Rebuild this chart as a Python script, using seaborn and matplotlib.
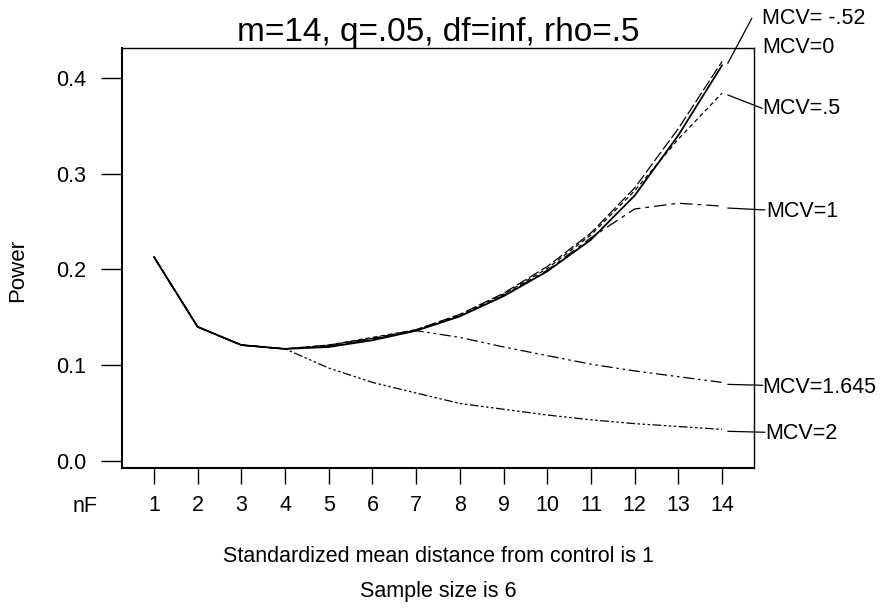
import pandas as pd
import matplotlib
matplotlib.use("Agg")
import matplotlib.pyplot as plt
import seaborn as sns

nF = list(range(1, 15))
mcv_labels = ["MCV= -.52", "MCV=0", "MCV=.5", "MCV=1", "MCV=1.645", "MCV=2"]

power_m052 = [0.213, 0.140, 0.121, 0.117, 0.121, 0.128, 0.137, 0.153, 0.175, 0.203, 0.238, 0.285, 0.347, 0.417]
power_0 = [0.213, 0.140, 0.121, 0.117, 0.119, 0.126, 0.136, 0.151, 0.172, 0.198, 0.231, 0.277, 0.340, 0.413]
power_05 = [0.213, 0.140, 0.121, 0.117, 0.121, 0.129, 0.137, 0.152, 0.174, 0.201, 0.236, 0.282, 0.336, 0.384]
power_1 = [0.213, 0.140, 0.121, 0.117, 0.120, 0.127, 0.136, 0.151, 0.173, 0.199, 0.233, 0.263, 0.269, 0.266]
power_1645 = [0.213, 0.140, 0.121, 0.117, 0.120, 0.127, 0.136, 0.129, 0.119, 0.110, 0.101, 0.094, 0.088, 0.082]
power_2 = [0.213, 0.140, 0.121, 0.117, 0.097, 0.082, 0.071, 0.060, 0.054, 0.048, 0.043, 0.039, 0.036, 0.033]

series = [power_m052, power_0, power_05, power_1, power_1645, power_2]

# tick labels
yticks = [0.0, 0.1, 0.2, 0.3, 0.4]
ytick_labels = ["0.0", "0.1", "0.2", "0.3", "0.4"]

df = pd.DataFrame({
    "nF": nF * len(series),
    "Power": [v for s in series for v in s],
    "MCV": [lab for lab, s in zip(mcv_labels, series) for _ in s],
})

sns.set_style("white")
plt.rcParams['font.family'] = ['Liberation Sans', 'DejaVu Sans']
plt.rcParams['text.color'] = 'black'
plt.rcParams['xtick.color'] = 'black'
plt.rcParams['ytick.color'] = 'black'

fig = plt.figure(figsize=(8.8, 6.08), dpi=100)
ax = fig.add_axes([122 / 880, 1 - 468 / 608, (754 - 122) / 880, (468 - 48) / 608])

styles = {
    "MCV= -.52": dict(linestyle=(0, (9, 2.5)), linewidth=0.9),
    "MCV=0": dict(linestyle="-", linewidth=1.3),
    "MCV=.5": dict(linestyle=(0, (3.5, 2.5)), linewidth=0.9),
    "MCV=1": dict(linestyle=(0, (10, 4, 3, 4)), linewidth=0.9),
    "MCV=1.645": dict(linestyle=(0, (9, 3, 2, 3, 2, 3)), linewidth=0.9),
    "MCV=2": dict(linestyle=(0, (7, 2, 2, 2, 2, 2, 2, 2)), linewidth=0.9),
}

for lab in mcv_labels:
    sub = df[df["MCV"] == lab]
    sns.lineplot(data=sub, x="nF", y="Power", ax=ax, color="black", **styles[lab])

ax.set_xlim(0.27, 14.73)
ax.set_ylim(-0.0073, 0.431)
ax.set_xticks(nF)
ax.set_xticklabels([str(n) for n in nF], fontsize=15.5)
ax.set_yticks(yticks)
ax.set_yticklabels(ytick_labels, fontsize=15.5)
ax.tick_params(axis="x", direction="out", length=11.5, width=1, pad=8, bottom=True)
ax.tick_params(axis="y", direction="out", length=15, width=1, pad=11, left=True)
ax.set_xlabel("")
ax.set_ylabel("")
for sp in ax.spines.values():
    sp.set_color("black")
    sp.set_linewidth(1)
ax.spines["left"].set_linewidth(1.5)
ax.spines["bottom"].set_linewidth(1.5)

ax.set_title("m=14, q=.05, df=inf, rho=.5", fontsize=24, pad=5)

# labels on the right with leader lines
label_pos = {
    "MCV= -.52": (14.68, 0.462, 14.91, 0.462, True),
    "MCV=0": (None, None, 14.91, 0.432, False),
    "MCV=.5": (14.92, 0.368, 14.92, 0.368, True),
    "MCV=1": (14.98, 0.262, 15.0, 0.260, True),
    "MCV=1.645": (14.93, 0.079, 14.93, 0.077, True),
    "MCV=2": (14.98, 0.030, 14.98, 0.029, True),
}
for lab, s in zip(mcv_labels, series):
    lx, ly, tx, ty, lead = label_pos[lab]
    if lead:
        ax.annotate("", xy=(14.13, s[-1] - 0.002), xytext=(lx, ly),
                    arrowprops=dict(arrowstyle="-", color="black", lw=0.9,
                                    shrinkA=0, shrinkB=0),
                    annotation_clip=False)
    ax.text(tx, ty, lab, fontsize=15.5, ha="left", va="center", clip_on=False)

fig.text(85 / 880, 1 - 507 / 608, "nF", fontsize=15.5, ha="center", va="center")
fig.text(18 / 880, 1 - 270 / 608, "Power", fontsize=16, rotation=90, ha="center", va="center")
fig.text(438 / 880, 1 - 556 / 608, "Standardized mean distance from control is 1",
         fontsize=15.5, ha="center", va="center")
fig.text(438 / 880, 1 - 591 / 608, "Sample size is 6", fontsize=15.5, ha="center", va="center")

fig.savefig("out.png", dpi=100)
